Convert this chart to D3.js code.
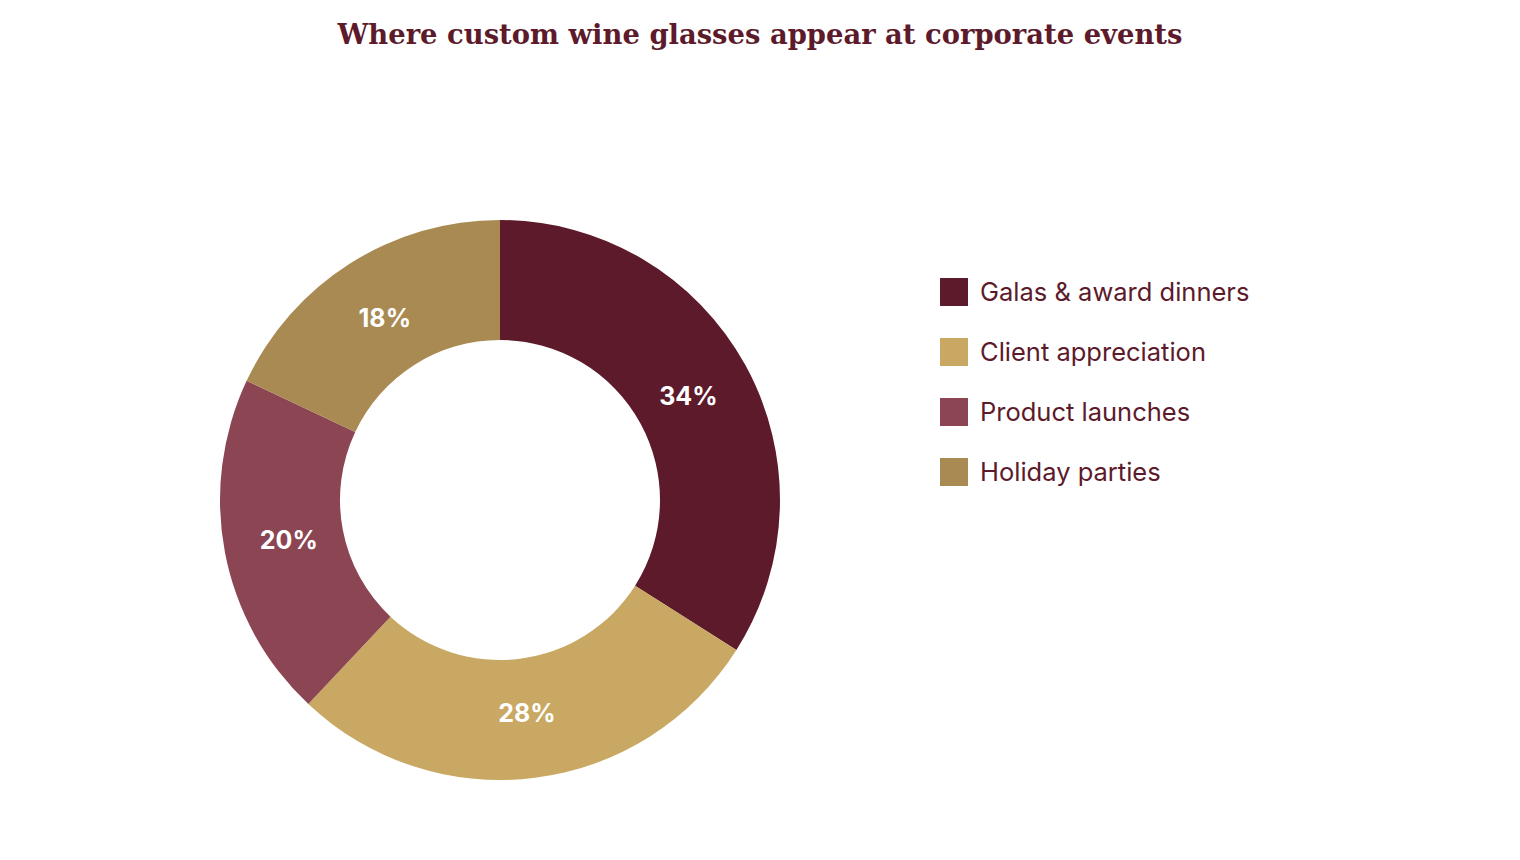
<!DOCTYPE html>
<html>
<head>
<meta charset="utf-8">
<script src="https://cdn.jsdelivr.net/npm/d3@7"></script>
<style>
  body { margin: 0; background: #fff; }
</style>
</head>
<body>
<div id="chart"></div>
<script>
const categories = ["Galas & award dinners", "Client appreciation", "Product launches", "Holiday parties"];
const values = [34, 28, 20, 18];
const colors = ["#5c1a2b", "#c8a862", "#8b4553", "#a88a52"];

const width = 1520, height = 860;
const cx = 500, cy = 500;
const outerR = 280, innerR = 160;

const svg = d3.select("#chart").append("svg")
    .attr("width", width)
    .attr("height", height);

svg.append("text")
    .attr("x", 760)
    .attr("y", 44)
    .attr("text-anchor", "middle")
    .attr("font-family", "'DejaVu Serif', Georgia, serif")
    .attr("font-weight", "bold")
    .attr("font-size", 27.4)
    .attr("fill", "#5c1a2b")
    .text("Where custom wine glasses appear at corporate events");

const data = categories.map((c, i) => ({name: c, value: values[i]}));

const color = d3.scaleOrdinal()
    .domain(categories)
    .range(colors);

const pie = d3.pie()
    .value(d => d.value)
    .sort(null);

const arc = d3.arc()
    .innerRadius(innerR)
    .outerRadius(outerR);

// labels sit a bit inside the ring's middle
const labelArc = d3.arc()
    .innerRadius(215)
    .outerRadius(215);

const g = svg.append("g")
    .attr("transform", `translate(${cx},${cy})`);

g.selectAll("path")
    .data(pie(data))
    .join("path")
    .attr("d", arc)
    .attr("fill", d => color(d.data.name));

g.selectAll("text")
    .data(pie(data))
    .join("text")
    .attr("transform", d => `translate(${labelArc.centroid(d)})`)
    .attr("text-anchor", "middle")
    .attr("dy", "0.35em")
    .attr("font-family", "Inter, 'Noto Sans', sans-serif")
    .attr("font-weight", "bold")
    .attr("font-size", 25)
    .attr("fill", "#fff")
    .text(d => d.data.value + "%");

// legend
const legend = svg.append("g")
    .attr("transform", "translate(940,278)");

const item = legend.selectAll("g")
    .data(categories)
    .join("g")
    .attr("transform", (d, i) => `translate(0,${i * 60})`);

item.append("rect")
    .attr("width", 28)
    .attr("height", 28)
    .attr("fill", d => color(d));

item.append("text")
    .attr("x", 40)
    .attr("y", 14)
    .attr("dy", "0.35em")
    .attr("font-family", "Inter, 'Noto Sans', sans-serif")
    .attr("font-size", 25.5)
    .attr("fill", "#5c1a2b")
    .text(d => d);
</script>
</body>
</html>
